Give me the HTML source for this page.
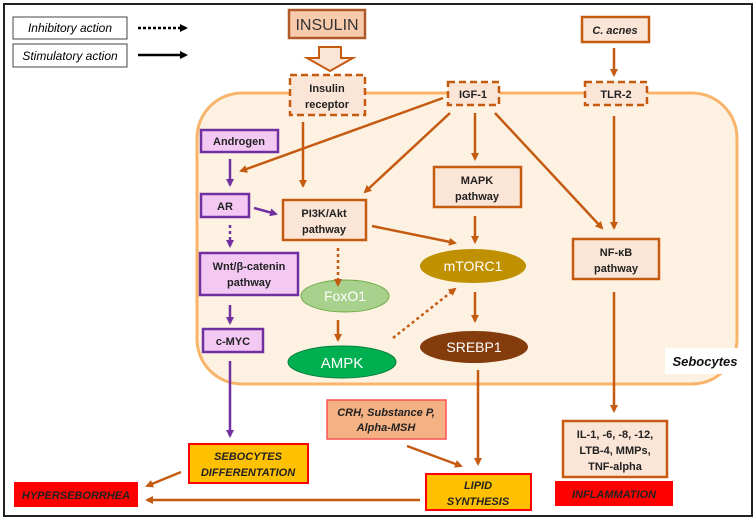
<!DOCTYPE html>
<html><head><meta charset="utf-8"><style>
html,body{margin:0;padding:0;background:#fff}
svg{display:block}
text{font-family:"Liberation Sans",sans-serif}
</style></head><body>
<svg width="756" height="521" viewBox="0 0 756 521" xmlns="http://www.w3.org/2000/svg">
<defs>
<marker id="ao" markerWidth="8" markerHeight="8" refX="6" refY="4" orient="auto" markerUnits="userSpaceOnUse"><path d="M0,0 L8,4 L0,8 z" fill="#c55a11"/></marker>
<marker id="ap" markerWidth="8" markerHeight="8" refX="6" refY="4" orient="auto" markerUnits="userSpaceOnUse"><path d="M0,0 L8,4 L0,8 z" fill="#7030a0"/></marker>
<marker id="ak" markerWidth="8" markerHeight="8" refX="6" refY="4" orient="auto" markerUnits="userSpaceOnUse"><path d="M0,0 L8,4 L0,8 z" fill="#000"/></marker>
</defs>
<rect x="4" y="4" width="748" height="512" fill="#fff" stroke="#222" stroke-width="2"/>
<!-- cell -->
<rect x="197" y="93" width="540" height="291" rx="45" fill="#fdf2e2" stroke="#f7b46a" stroke-width="3"/>
<!-- legend -->
<rect x="13" y="17" width="114" height="22" fill="#fff" stroke="#444"/>
<text x="70" y="32" font-size="12" font-style="italic" text-anchor="middle">Inhibitory action</text>
<rect x="13" y="44" width="114" height="23" fill="#fff" stroke="#444"/>
<text x="70" y="60" font-size="12" font-style="italic" text-anchor="middle">Stimulatory action</text>
<line x1="138" y1="28" x2="186" y2="28" stroke="#000" stroke-width="2.5" stroke-dasharray="3,2" marker-end="url(#ak)"/>
<line x1="138" y1="55" x2="186" y2="55" stroke="#000" stroke-width="2.5" marker-end="url(#ak)"/>
<!-- INSULIN -->
<rect x="289" y="10" width="76" height="28" fill="#f8cbad" stroke="#b05a2a" stroke-width="2.5"/>
<text x="327" y="30" font-size="16" text-anchor="middle" fill="#333">INSULIN</text>
<path d="M319,47 L341,47 L341,58 L353,58 L330,71 L307,58 L319,58 Z" fill="#fbe5d6" stroke="#c55a11" stroke-width="2"/>
<!-- receptors -->
<rect x="290" y="75" width="75" height="40" fill="#fbe5d6" stroke="#c55a11" stroke-width="2.5" stroke-dasharray="7,4"/>
<text x="327" y="92" font-size="11" font-weight="bold" text-anchor="middle" fill="#222">Insulin</text>
<text x="327" y="108" font-size="11" font-weight="bold" text-anchor="middle" fill="#222">receptor</text>
<rect x="448" y="82" width="51" height="23" fill="#fbe5d6" stroke="#c55a11" stroke-width="2.5" stroke-dasharray="7,4"/>
<text x="473" y="98" font-size="11" font-weight="bold" text-anchor="middle" fill="#222">IGF-1</text>
<rect x="585" y="82" width="62" height="23" fill="#fbe5d6" stroke="#c55a11" stroke-width="2.5" stroke-dasharray="7,4"/>
<text x="616" y="98" font-size="11" font-weight="bold" text-anchor="middle" fill="#222">TLR-2</text>
<rect x="582" y="17" width="67" height="25" fill="#fbe5d6" stroke="#c55a11" stroke-width="2.5"/>
<text x="615" y="34" font-size="11" font-weight="bold" font-style="italic" text-anchor="middle" fill="#222">C. acnes</text>
<!-- purple -->
<g fill="#f3c9f3" stroke="#7030a0" stroke-width="2.5">
<rect x="201" y="130" width="77" height="22"/>
<rect x="201" y="194" width="48" height="23"/>
<rect x="200" y="253" width="98" height="42"/>
<rect x="203" y="329" width="60" height="23"/>
</g>
<g font-size="11" font-weight="bold" text-anchor="middle" fill="#222">
<text x="239" y="145">Androgen</text>
<text x="225" y="210">AR</text>
<text x="249" y="270">Wnt/β-catenin</text>
<text x="249" y="286">pathway</text>
<text x="233" y="345">c-MYC</text>
</g>
<!-- orange boxes -->
<g fill="#fbe5d6" stroke="#c55a11" stroke-width="2.5">
<rect x="283" y="200" width="83" height="40"/>
<rect x="434" y="167" width="87" height="40"/>
<rect x="573" y="239" width="86" height="40"/>
<rect x="563" y="421" width="104" height="56"/>
</g>
<g font-size="11" font-weight="bold" text-anchor="middle" fill="#222">
<text x="324" y="217">PI3K/Akt</text><text x="324" y="233">pathway</text>
<text x="477" y="184">MAPK</text><text x="477" y="200">pathway</text>
<text x="616" y="256">NF-κB</text><text x="616" y="272">pathway</text>
<text x="615" y="438">IL-1, -6, -8, -12,</text>
<text x="615" y="454">LTB-4, MMPs,</text>
<text x="615" y="470">TNF-alpha</text>
</g>
<!-- ellipses -->
<ellipse cx="473" cy="266" rx="53" ry="17" fill="#bf9000"/>
<text x="473" y="271" font-size="14" text-anchor="middle" fill="#fff">mTORC1</text>
<ellipse cx="474" cy="347" rx="54" ry="16" fill="#843c0c"/>
<text x="474" y="352" font-size="14" text-anchor="middle" fill="#fff">SREBP1</text>
<ellipse cx="345" cy="296" rx="44" ry="16" fill="#a9d18e" stroke="#70ad47"/>
<text x="345" y="301" font-size="14" text-anchor="middle" fill="#fff">FoxO1</text>
<ellipse cx="342" cy="362" rx="54" ry="16" fill="#00b050" stroke="#00803a"/>
<text x="342" y="368" font-size="15" text-anchor="middle" fill="#fff">AMPK</text>
<!-- sebocytes label -->
<rect x="665" y="348" width="79" height="26" fill="#fff"/>
<text x="705" y="366" font-size="13" font-weight="bold" font-style="italic" text-anchor="middle" fill="#111">Sebocytes</text>
<!-- outputs -->
<rect x="327" y="400" width="119" height="39" fill="#f4b183" stroke="#ff5050" stroke-width="1.5"/>
<text x="386" y="416" font-size="11" font-weight="bold" font-style="italic" text-anchor="middle" fill="#222">CRH, Substance P,</text>
<text x="386" y="431" font-size="11" font-weight="bold" font-style="italic" text-anchor="middle" fill="#222">Alpha-MSH</text>
<rect x="426" y="474" width="105" height="36" fill="#ffc000" stroke="#ff0000" stroke-width="2"/>
<text x="478" y="489" font-size="11" font-weight="bold" font-style="italic" text-anchor="middle" fill="#222">LIPID</text>
<text x="478" y="505" font-size="11" font-weight="bold" font-style="italic" text-anchor="middle" fill="#222">SYNTHESIS</text>
<rect x="189" y="444" width="119" height="39" fill="#ffc000" stroke="#ff0000" stroke-width="2"/>
<text x="248" y="460" font-size="11" font-weight="bold" font-style="italic" text-anchor="middle" fill="#222">SEBOCYTES</text>
<text x="248" y="476" font-size="11" font-weight="bold" font-style="italic" text-anchor="middle" fill="#222">DIFFERENTATION</text>
<rect x="14" y="482" width="124" height="25" fill="#ff0000"/>
<text x="76" y="499" font-size="11" font-weight="bold" font-style="italic" text-anchor="middle" fill="#222">HYPERSEBORRHEA</text>
<rect x="555" y="481" width="118" height="25" fill="#ff0000"/>
<text x="614" y="498" font-size="11" font-weight="bold" font-style="italic" text-anchor="middle" fill="#222">INFLAMMATION</text>
<!-- orange arrows -->
<g stroke="#c55a11" stroke-width="2.5" fill="none" marker-end="url(#ao)">
<line x1="614" y1="48" x2="614" y2="75"/>
<line x1="303" y1="122" x2="303" y2="186"/>
<line x1="443" y1="98" x2="241" y2="171"/>
<line x1="450" y1="113" x2="365" y2="192"/>
<line x1="475" y1="113" x2="475" y2="159"/>
<line x1="495" y1="113" x2="602" y2="228"/>
<line x1="614" y1="116" x2="614" y2="228"/>
<line x1="475" y1="216" x2="475" y2="242"/>
<line x1="372" y1="226" x2="455" y2="243"/>
<line x1="338" y1="248" x2="338" y2="285" stroke-dasharray="3,3"/>
<line x1="338" y1="320" x2="338" y2="340"/>
<line x1="393" y1="338" x2="455" y2="289" stroke-dasharray="3,3"/>
<line x1="475" y1="292" x2="475" y2="321"/>
<line x1="478" y1="370" x2="478" y2="464"/>
<line x1="407" y1="446" x2="461" y2="466"/>
<line x1="614" y1="292" x2="614" y2="411"/>
<line x1="420" y1="500" x2="147" y2="500"/>
<line x1="181" y1="472" x2="147" y2="486"/>
</g>
<!-- purple arrows -->
<g stroke="#7030a0" stroke-width="2.5" fill="none" marker-end="url(#ap)">
<line x1="230" y1="159" x2="230" y2="185"/>
<line x1="254" y1="208" x2="276" y2="214"/>
<line x1="230" y1="225" x2="230" y2="246" stroke-dasharray="3,3"/>
<line x1="230" y1="305" x2="230" y2="323"/>
<line x1="230" y1="361" x2="230" y2="436"/>
</g>
</svg>
</body></html>
